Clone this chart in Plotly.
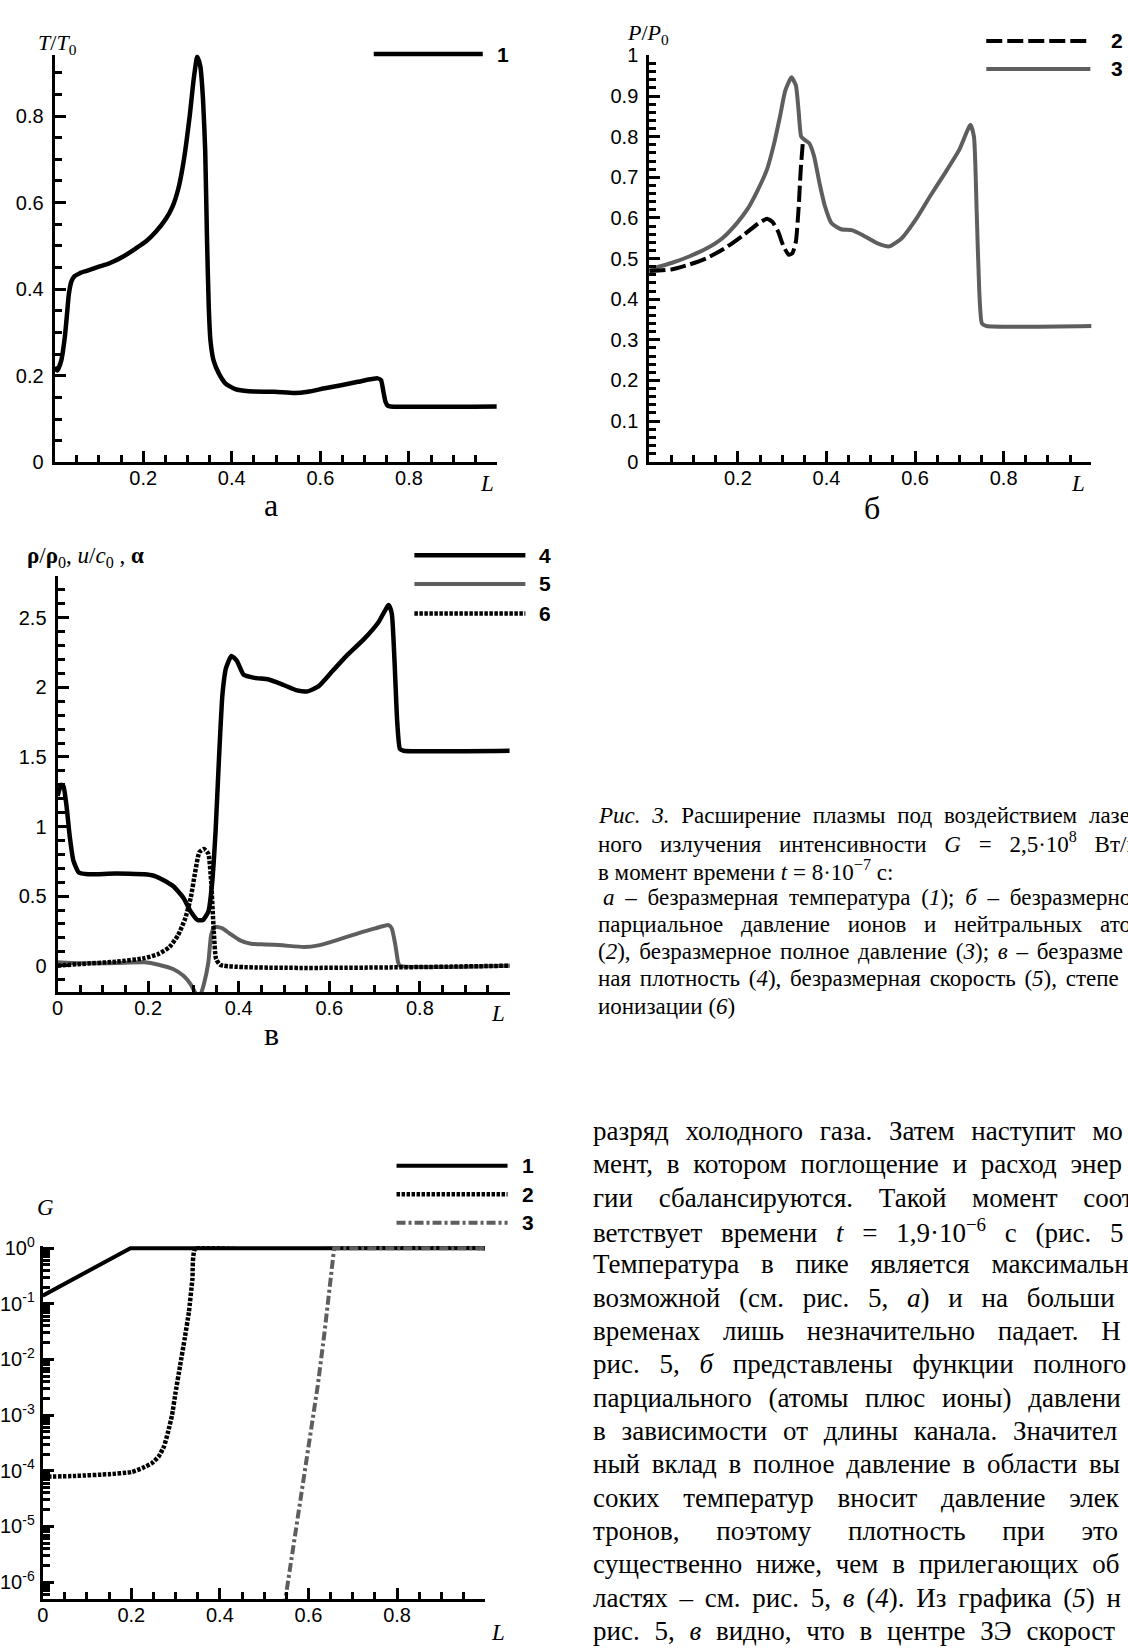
import plotly.graph_objects as go

W, H = 1128, 1648

# ---------------- data ----------------
# Panel а: dimensionless temperature T/T0 (curve 1)
L_a = [0, 0.006, 0.015, 0.023, 0.028, 0.032, 0.038, 0.045, 0.057, 0.071, 0.10, 0.124, 0.154,
       0.183, 0.206, 0.228, 0.251, 0.266, 0.28, 0.292, 0.305, 0.314, 0.322, 0.329, 0.335,
       0.34, 0.344, 0.348, 0.352, 0.359, 0.371, 0.386, 0.408, 0.438, 0.497, 0.542, 0.572,
       0.61, 0.647, 0.685, 0.729, 0.737, 0.742, 0.747, 0.752, 0.759, 1.0]
T_a = [0.22, 0.212, 0.235, 0.289, 0.342, 0.387, 0.418, 0.43, 0.437, 0.442, 0.452, 0.46, 0.475,
       0.494, 0.51, 0.532, 0.562, 0.59, 0.635, 0.70, 0.80, 0.885, 0.937, 0.915, 0.84,
       0.72, 0.52, 0.36, 0.28, 0.235, 0.205, 0.182, 0.169, 0.164, 0.163, 0.16, 0.163,
       0.171, 0.178, 0.186, 0.194, 0.19, 0.165, 0.14, 0.131, 0.129, 0.129]

# Panel б: partial pressure (2) and total pressure (3)
L_b2 = [0, 0.05, 0.09, 0.13, 0.173, 0.213, 0.246, 0.266, 0.278, 0.291, 0.303, 0.315, 0.323,
        0.331, 0.337, 0.342, 0.347]
P_b2 = [0.469, 0.473, 0.485, 0.501, 0.527, 0.558, 0.586, 0.598, 0.59, 0.566, 0.53, 0.509, 0.513,
        0.542, 0.622, 0.72, 0.79]
L_b3 = [0, 0.05, 0.09, 0.13, 0.165, 0.197, 0.222, 0.246, 0.266, 0.282, 0.295, 0.307, 0.321,
        0.331, 0.337, 0.343, 0.351, 0.361, 0.372, 0.384, 0.396, 0.412, 0.433, 0.457, 0.481,
        0.514, 0.542, 0.57, 0.603, 0.635, 0.668, 0.70, 0.725, 0.733, 0.739, 0.745, 0.751,
        0.761, 1.0]
P_b3 = [0.473, 0.489, 0.505, 0.525, 0.55, 0.586, 0.622, 0.671, 0.72, 0.784, 0.849, 0.913, 0.946,
        0.926, 0.865, 0.80, 0.792, 0.784, 0.752, 0.687, 0.631, 0.586, 0.572, 0.57, 0.558,
        0.538, 0.53, 0.55, 0.598, 0.655, 0.711, 0.768, 0.829, 0.80, 0.622, 0.42, 0.34,
        0.334, 0.334]

# Panel в: density (4), velocity (5), ionization degree (6)
L_v4 = [0, 0.008, 0.013, 0.02, 0.027, 0.035, 0.047, 0.067, 0.129, 0.208, 0.231, 0.255, 0.278,
        0.294, 0.309, 0.321, 0.333, 0.341, 0.349, 0.356, 0.364, 0.372, 0.384, 0.396, 0.411,
        0.435, 0.466, 0.497, 0.529, 0.552, 0.576, 0.607, 0.638, 0.677, 0.709, 0.731, 0.738,
        0.744, 0.75, 0.756, 0.764, 1.0]
R_v4 = [1.22, 1.30, 1.29, 1.14, 0.925, 0.754, 0.669, 0.657, 0.662, 0.65, 0.62, 0.572, 0.487,
        0.389, 0.328, 0.328, 0.389, 0.584, 0.973, 1.46, 1.946, 2.14, 2.226, 2.19, 2.09,
        2.068, 2.056, 2.02, 1.978, 1.971, 2.007, 2.117, 2.226, 2.348, 2.47, 2.591, 2.53,
        2.19, 1.752, 1.557, 1.545, 1.545]
L_v5 = [0, 0.051, 0.129, 0.192, 0.223, 0.255, 0.278, 0.294, 0.305, 0.313, 0.323, 0.333, 0.339,
        0.347, 0.364, 0.38, 0.403, 0.427, 0.458, 0.497, 0.544, 0.576, 0.615, 0.662, 0.701,
        0.731, 0.738, 0.746, 0.752, 0.756, 1.0]
U_v5 = [0.024, 0.017, 0.019, 0.024, 0.007, -0.024, -0.073, -0.134, -0.2, -0.23, -0.134, 0.024,
        0.219, 0.28, 0.268, 0.231, 0.182, 0.158, 0.153, 0.146, 0.134, 0.146, 0.182, 0.231,
        0.268, 0.292, 0.268, 0.146, 0.024, 0.0, 0.0]
L_v6 = [0, 0.051, 0.129, 0.192, 0.223, 0.247, 0.266, 0.282, 0.294, 0.303, 0.313, 0.323, 0.333,
        0.339, 0.345, 0.35, 0.36, 1.0]
A_v6 = [0.0, 0.012, 0.029, 0.054, 0.085, 0.134, 0.219, 0.341, 0.487, 0.657, 0.815, 0.839, 0.803,
        0.608, 0.243, 0.049, 0.005, 0.0]

# Panel г: G (log scale), curves 1, 2, 3
L_g1 = [0, 0.198, 1.0]
G_g1 = [0.14, 1.0, 1.0]
L_g2 = [0, 0.075, 0.15, 0.2, 0.225, 0.247, 0.262, 0.274, 0.283, 0.292, 0.30, 0.31, 0.32,
        0.33, 0.338, 0.345, 1.0]
G_g2 = [7.8e-5, 8.1e-5, 8.7e-5, 9.5e-5, 1.12e-4, 1.38e-4, 1.82e-4, 2.75e-4, 5.0e-4, 1.0e-3,
        2.57e-3, 7.6e-3, 2.24e-2, 7.1e-2, 0.28, 1.0, 1.0]
L_g3 = [0.545, 0.55, 0.575, 0.599, 0.621, 0.636, 0.647, 0.655, 0.658, 1.0]
G_g3 = [3.5e-7, 6.5e-7, 1.26e-5, 2.4e-4, 3.4e-3, 2.95e-2, 0.174, 0.676, 1.0, 1.0]

# tick values / labels
xt_ab = [0.2, 0.4, 0.6, 0.8]
xl_ab = ["0.2", "0.4", "0.6", "0.8"]
xt_vg = [0, 0.2, 0.4, 0.6, 0.8]
xl_vg = ["0", "0.2", "0.4", "0.6", "0.8"]
yt_a = [0, 0.2, 0.4, 0.6, 0.8]
yl_a = ["0", "0.2", "0.4", "0.6", "0.8"]
yt_b = [0, 0.1, 0.2, 0.3, 0.4, 0.5, 0.6, 0.7, 0.8, 0.9, 1.0]
yl_b = ["0", "0.1", "0.2", "0.3", "0.4", "0.5", "0.6", "0.7", "0.8", "0.9", "1"]
yt_v = [0, 0.5, 1, 1.5, 2, 2.5]
yl_v = ["0", "0.5", "1", "1.5", "2", "2.5"]
yt_g = [1e-6, 1e-5, 1e-4, 1e-3, 1e-2, 1e-1, 1]
yl_g = ["10<sup>-6</sup>", "10<sup>-5</sup>", "10<sup>-4</sup>", "10<sup>-3</sup>",
        "10<sup>-2</sup>", "10<sup>-1</sup>", "10<sup>0</sup>"]

# caption and body text (as far as the page shows them)
caption_lines = [
    "<i>Рис. 3.</i> Расширение плазмы под воздействием лазе",
    "ного излучения интенсивности <i>G</i> = 2,5·10<sup>8</sup> Вт/м",
    "в момент времени <i>t</i> = 8·10<sup>−7</sup> с:",
    "<i>а</i> – безразмерная температура (<i>1</i>); <i>б</i> – безразмерно",
    "парциальное давление ионов и нейтральных атомо",
    "(<i>2</i>), безразмерное полное давление (<i>3</i>); <i>в</i> – безразме",
    "ная плотность (<i>4</i>), безразмерная скорость (<i>5</i>), степе",
    "ионизации (<i>6</i>)",
]
caption_spacing = [6, 12, 0, 5, 12, 3, 3, 0]
body_lines = [
    "разряд холодного газа. Затем наступит мо",
    "мент, в котором поглощение и расход энер",
    "гии сбалансируются. Такой момент соот",
    "ветствует времени <i>t</i> = 1,9·10<sup>−6</sup> с (рис. 5",
    "Температура в пике является максимальн",
    "возможной (см. рис. 5, <i>а</i>) и на больши",
    "временах лишь незначительно падает. Н",
    "рис. 5, <i>б</i> представлены функции полного",
    "парциального (атомы плюс ионы) давлени",
    "в зависимости от длины канала. Значител",
    "ный вклад в полное давление в области вы",
    "соких температур вносит давление элек",
    "тронов, поэтому плотность при это",
    "существенно ниже, чем в прилегающих об",
    "ластях – см. рис. 5, <i>в</i> (<i>4</i>). Из графика (<i>5</i>) н",
    "рис. 5, <i>в</i> видно, что в центре ЗЭ скорост",
]
body_spacing = [10, 7, 19, 12, 15, 12, 16, 13, 10, 9, 5, 17, 30, 7, 5, 8]

GRAY = "#5e5e5e"
SERIF = "Liberation Serif, Times New Roman, serif"
SANS = "Liberation Sans, Arial, sans-serif"


def px(x):
    return x / W


def py(y):
    return 1 - y / H


def axis(xd, rng, tv, tt, minor, is_x, log=False, standoff=None):
    if standoff is None:
        standoff = -4 if is_x else 4
    d = dict(
        domain=xd, range=rng, type="log" if log else "linear",
        showline=True, linecolor="black", linewidth=3, mirror=False,
        ticks="inside", ticklen=11, tickwidth=2.5, tickcolor="black",
        tickmode="array", tickvals=tv, ticktext=tt,
        showgrid=False, zeroline=False, fixedrange=True,
        tickfont=dict(family=SANS, size=20, color="black"),
        ticklabelstandoff=standoff,
    )
    d["minor"] = dict(ticks="inside", ticklen=7, tickwidth=2.5, tickcolor="black",
                      showgrid=False, **minor)
    return d


fig = go.Figure()

# panel а
fig.add_trace(go.Scatter(x=L_a, y=T_a, mode="lines", xaxis="x", yaxis="y",
                         line=dict(color="black", width=4.5, shape="spline", smoothing=0.5)))
# panel б
fig.add_trace(go.Scatter(x=L_b3, y=P_b3, mode="lines", xaxis="x2", yaxis="y2",
                         line=dict(color=GRAY, width=4, shape="spline", smoothing=0.5)))
fig.add_trace(go.Scatter(x=L_b2, y=P_b2, mode="lines", xaxis="x2", yaxis="y2",
                         line=dict(color="black", width=4, dash="16px,5px",
                                   shape="spline", smoothing=0.5)))
# panel в
fig.add_trace(go.Scatter(x=L_v4, y=R_v4, mode="lines", xaxis="x3", yaxis="y3",
                         line=dict(color="black", width=4.5, shape="spline", smoothing=0.5)))
fig.add_trace(go.Scatter(x=L_v5, y=U_v5, mode="lines", xaxis="x3", yaxis="y3",
                         line=dict(color=GRAY, width=4, shape="spline", smoothing=0.5)))
fig.add_trace(go.Scatter(x=L_v6, y=A_v6, mode="lines", xaxis="x3", yaxis="y3",
                         line=dict(color="black", width=4.5, dash="3.5px,1.5px",
                                   shape="spline", smoothing=0.5)))
# panel г
fig.add_trace(go.Scatter(x=L_g1, y=G_g1, mode="lines", xaxis="x4", yaxis="y4",
                         line=dict(color="black", width=4)))
fig.add_trace(go.Scatter(x=L_g2, y=G_g2, mode="lines", xaxis="x4", yaxis="y4",
                         line=dict(color="black", width=4.5, dash="3.5px,1.5px",
                                   shape="spline", smoothing=0.4)))
fig.add_trace(go.Scatter(x=L_g3, y=G_g3, mode="lines", xaxis="x4", yaxis="y4",
                         line=dict(color=GRAY, width=4, dash="9px,3px,3px,3px")))

minor_log = [k * 10.0 ** e for e in range(-7, 0) for k in range(2, 10)]

fig.update_layout(
    width=W, height=H, margin=dict(l=0, r=0, t=0, b=0),
    paper_bgcolor="white", plot_bgcolor="white", showlegend=False,
    xaxis=axis([px(45), px(491)], [0, 0.998], xt_ab, xl_ab, dict(tick0=0, dtick=0.05), True),
    yaxis=axis([py(456.7), py(43.2)], [0, 0.942], yt_a, yl_a, dict(tick0=0, dtick=0.05), False),
    xaxis2=axis([px(645), px(1091)], [0, 0.998], xt_ab, xl_ab, dict(tick0=0, dtick=0.05), True),
    yaxis2=axis([py(456), py(44)], [0, 1.0], yt_b, yl_b, dict(tick0=0, dtick=0.02), False),
    xaxis3=axis([px(48), px(504)], [0, 0.998], xt_vg, xl_vg, dict(tick0=0, dtick=0.05), True),
    yaxis3=axis([py(994), py(572)], [-0.19, 2.8], yt_v, yl_v, dict(tick0=0, dtick=0.1), False),
    xaxis4=axis([px(33), px(479)], [0, 0.998], xt_vg, xl_vg, dict(tick0=0, dtick=0.05), True),
    yaxis4=axis([py(1609.3), py(1251.4)], [-6.3, 0.04], yt_g, yl_g,
                dict(tickmode="array", tickvals=minor_log), False, log=True, standoff=1),
)
for i in ["", "2", "3", "4"]:
    fig.layout["xaxis" + i].anchor = "y" + i
    fig.layout["yaxis" + i].anchor = "x" + i

ann = []


def text(x, y, s, size, family=SERIF, xanchor="center", yanchor="middle", color="black"):
    ann.append(dict(x=px(x), y=py(y), xref="paper", yref="paper", text=s, showarrow=False,
                    xanchor=xanchor, yanchor=yanchor,
                    font=dict(family=family, size=size, color=color)))


# axis titles
text(48, 32, "<i>T</i>/<i>T</i><sub>0</sub>", 22)
text(644, 22, "<i>P</i>/<i>P</i><sub>0</sub>", 22)
text(76, 553, "<b>ρ</b>/<b>ρ</b><sub>0</sub>, <i>u</i>/<i>c</i><sub>0</sub> , <b>α</b>", 23)
text(36, 1212, "<i>G</i>", 23)
# L labels
text(481, 478, "<i>L</i>", 23)
text(1078, 478, "<i>L</i>", 23)
text(492, 1016, "<i>L</i>", 23)
text(492, 1643, "<i>L</i>", 23)
# panel letters
text(263, 500, "а", 32)
text(870, 503, "б", 32)
text(264, 1036, "в", 32)

# legends (sample lines as shapes, numbers as text)
shapes = []


def leg(x0, x1, y, color, width, dash, label, lx):
    shapes.append(dict(type="line", xref="paper", yref="paper", x0=px(x0), x1=px(x1),
                       y0=py(y), y1=py(y), line=dict(color=color, width=width, dash=dash)))
    text(lx, y, "<b>" + label + "</b>", 21, family=SANS)


leg(367, 477, 42.7, "black", 4.5, "solid", "1", 497)
leg(985, 1090, 29.3, "black", 4, "16px,5px", "2", 1117)
leg(985, 1090, 57.7, GRAY, 4, "solid", "3", 1117)
leg(408, 520, 551, "black", 4.5, "solid", "4", 540)
leg(408, 520, 580, GRAY, 4, "solid", "5", 540)
leg(408, 520, 610, "black", 4.5, "3.5px,1.5px", "6", 540)
leg(390, 502, 1170, "black", 4, "solid", "1", 523)
leg(390, 502, 1199, "black", 4.5, "3.5px,1.5px", "2", 523)
leg(390, 502, 1228, GRAY, 4, "9px,3px,3px,3px", "3", 523)

# caption
for i, (s, sp) in enumerate(zip(caption_lines, caption_spacing)):
    x0 = 596 if i == 3 else 591
    text(x0, 815 + 27.6 * i, '<span style="word-spacing:%dpx">%s</span>' % (sp, s), 23,
         xanchor="left")

# body text
for i, (s, sp) in enumerate(zip(body_lines, body_spacing)):
    text(586, 1135 + 33.8 * i, '<span style="word-spacing:%dpx">%s</span>' % (sp, s), 27,
         xanchor="left")

fig.update_layout(annotations=ann, shapes=shapes)
fig.write_html("out.html")
